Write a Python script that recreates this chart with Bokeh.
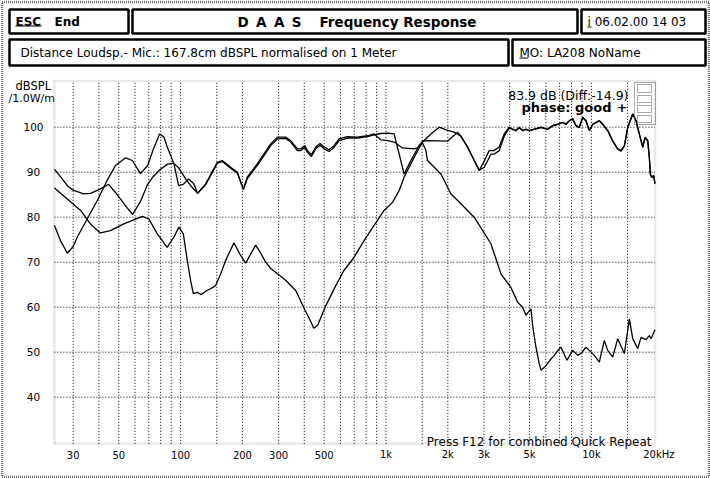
import math
from bokeh.plotting import figure
from bokeh.models import Range1d, Label, BoxAnnotation
from bokeh.core.properties import value
from bokeh.embed import file_html
from bokeh.resources import INLINE

# ---------------- data ----------------
sum_f = [24.3, 26.0, 28.1, 30.0, 33.7, 36.4, 40.7, 44.6, 48.2, 54.0, 58.4, 63.8, 69.1, 73.5, 79.0,
         86.4, 92.4, 97.8, 105.8, 112, 121, 132.4, 151, 159.7, 175.3, 188.9, 202.1, 211.3, 223.6,
         236.5, 254.7, 274.6, 296, 324.8, 343.6, 370.4, 384.4, 402.1, 414.4, 433.5, 454.9, 477.3,
         499.3, 528.1, 558.6, 590.9, 649.4, 726.2, 812.5, 874.9, 943.3, 1017, 1095, 1203, 1371,
         1424, 1506, 1593, 1994, 2230, 2314, 2500, 2688, 2843, 3008, 3181, 3352, 3558, 3763,
         3980, 4135, 4292, 4453, 4626, 4801, 4982, 5269, 5681, 6125, 6479, 6853, 7248, 7522,
         7806, 8109, 8414, 8730, 9070, 9412, 9768, 10146, 10529, 10926, 11352, 12006, 12699,
         13432, 13942, 14468, 15028, 15893, 16492, 17115, 17783, 18248, 18804, 19147, 19365,
         19670, 20100, 20400]
sum_db = [90.7, 89.0, 87.0, 86.0, 85.2, 85.3, 86.3, 87.3, 85.5, 82.5, 80.6, 83.5, 87.3, 89.0, 90.5,
          91.8, 92.0, 91.0, 88.5, 87.0, 85.3, 87.4, 92.2, 92.6, 91.1, 90.0, 86.3, 88.9, 90.4,
          91.9, 94.1, 96.3, 97.8, 97.8, 97.0, 95.2, 95.2, 95.9, 94.8, 93.9, 95.6, 96.4,
          95.6, 95.0, 95.9, 97.4, 97.9, 97.8, 98.1, 98.5, 97.2, 97.0, 96.7, 95.4, 95.2,
          95.4, 96.9, 97.0, 96.9, 98.9, 98.0, 95.5, 92.6, 90.4, 92.5, 94.8, 94.8, 95.6, 98.5,
          100.0, 99.6, 99.3, 100.0, 99.3, 99.6, 99.3, 99.6, 100.0, 99.6, 100.4, 100.7, 101.1, 100.7,
          101.5, 101.9, 100.4, 100.0, 102.2, 101.5, 99.3, 100.7, 101.1, 101.5, 100.7, 99.3, 97.0,
          95.2, 94.8, 95.9, 100.0, 103.0, 101.5, 98.5, 95.6, 97.8, 97.0, 93.3, 89.6,
          88.9, 89.3, 87.5]

woofer_f = [24.3, 26.0, 28.1, 30.0, 31.4, 35.1, 39.3, 43.9, 48.2, 54.0, 58.2, 63.8, 69.1, 73.5,
            79.0, 83.0, 86.1, 92.8, 97.8, 103.0, 109.4, 115.7, 121, 132.4, 151, 159.7, 175.3,
            188.9, 202.1, 211.3, 223.6, 236.5, 254.7, 274.6, 296, 324.8, 343.6, 370.4, 384.4,
            402.1, 414.4, 433.5, 454.9, 477.3, 499.3, 528.1, 558.6, 590.9, 649.4, 726.2, 812.5,
            874.9, 943.3, 1017, 1095, 1158, 1225, 1321, 1450, 1506, 1560, 1593, 1850, 2069, 2314,
            2688, 3242, 3627, 4057, 4374, 4626, 4801, 4926, 5078, 5176, 5370, 5573, 5681, 6009,
            6357, 6597, 6977, 7111, 7607, 8109, 8577, 8898, 9412, 9768, 10330, 10926, 11558,
            12006, 12699, 13432, 14468, 15300, 15893, 16810, 17446, 18455, 19147, 19520, 20400]
woofer_db = [78.2, 74.8, 72.0, 73.5, 75.6, 79.6, 83.7, 88.2, 91.5, 93.2, 92.6, 89.7, 91.5, 95.0,
             98.5, 97.8, 95.6, 91.9, 87.0, 87.3, 88.5, 87.5, 85.3, 87.2, 92.0, 92.4, 90.9,
             89.8, 86.1, 88.6, 90.1, 91.5, 93.7, 95.9, 97.4, 97.5, 96.7, 94.8, 94.8,
             95.5, 94.4, 93.5, 95.2, 96.0, 95.2, 94.6, 95.5, 97.0, 97.6, 97.6, 97.9,
             98.3, 98.6, 98.7, 98.5, 94.1, 89.6, 92.6, 95.9, 96.5, 95.0, 92.6, 89.6, 85.2, 83.0,
             80.0, 74.1, 67.4, 64.4, 61.1, 60.0, 58.2, 58.9, 59.6, 55.9, 51.1, 47.4, 46.0, 47.0,
             48.5, 49.3, 50.8, 51.1, 48.2, 50.4, 49.3, 49.7, 51.1, 50.4, 49.3, 47.8, 52.6,
             50.4, 48.9, 53.0, 49.7, 57.4, 53.0, 50.8, 53.3, 52.8, 53.7, 53.0, 55.0]

tweeter_f = [24.3, 28.0, 32.6, 36.4, 40.7, 45.6, 52.9, 65.1, 70.1, 77.0, 86.1, 92.8, 98.1, 103.1,
             107.8, 111.9, 115.3, 120.6, 126.2, 133.9, 140, 148.1, 156.6, 165.7, 181.8, 196.1,
             207.4, 232.1, 245.5, 259.6, 274.6, 324.8, 363.4, 402.1, 433.5, 444.8, 465, 508.9,
             569.4, 622.9, 699, 782, 874.9, 978.8, 1076, 1158, 1225, 1371, 1506, 1653, 1815,
             1994, 2147, 2314, 2496, 2688, 2843, 3008, 3242, 3352, 3558, 3763, 3980, 4135, 4292,
             4453, 4626, 4801, 4982, 5269, 5681, 6125, 6479, 6853, 7248, 7522, 7806, 8109, 8414,
             8730, 9070, 9412, 9768, 10146, 10529, 10926, 11352, 12006, 12699, 13432, 13942,
             14468, 15028, 15893, 16492, 17115, 17783, 18248, 18804, 19147, 19365, 19670, 20100,
             20400]
tweeter_db = [86.5, 84.1, 81.5, 78.5, 76.5, 77.0, 78.5, 80.2, 79.6, 76.3, 73.3, 75.6, 77.8, 76.3,
              70.4, 65.9, 63.0, 63.3, 62.8, 63.7, 64.1, 64.8, 67.4, 70.4, 74.3, 71.5,
              69.8, 73.8, 72.0, 70.0, 68.6, 66.0, 63.7, 59.5, 56.5, 55.3, 56.0, 60.3,
              64.8, 68.1, 71.1, 74.8, 78.2, 81.5, 83.3, 85.9, 88.9, 93.3, 96.7, 98.5, 100.0,
              99.3, 98.9, 98.0, 95.6, 92.6, 90.4, 91.1, 94.0, 94.0, 94.8, 98.0, 99.8, 99.5, 99.2,
              99.9, 99.2, 99.5, 99.2, 99.5, 99.9, 99.5, 100.3, 100.6, 101.0, 100.6, 101.4, 101.8, 100.3,
              99.9, 102.1, 101.4, 99.2, 100.6, 101.0, 101.4, 100.6, 99.2, 96.9, 95.1, 94.7,
              95.8, 99.9, 102.9, 101.4, 98.4, 95.5, 97.7, 96.9, 93.2, 89.5, 88.8, 89.2,
              87.4]

grid_freqs = [30, 40, 50, 60, 70, 80, 90, 100, 150, 200, 300, 400, 500, 600, 700, 800, 900,
              1000, 1500, 2000, 3000, 4000, 5000, 6000, 7000, 8000, 9000, 10000, 15000]
x_tick_vals = [30, 50, 100, 200, 300, 500, 1000, 2000, 3000, 5000, 10000, 20000]
x_tick_labels = ["30", "50", "100", "200", "300", "500", "1k", "2k", "3k", "5k", "10k", "20kHz"]
y_tick_vals = [40, 50, 60, 70, 80, 90, 100]
y_tick_labels = ["40", "50", "60", "70", "80", "90", "100"]
plot_f = (24.3, 20400)      # frequency span of the diagram
plot_db = (29.64, 110.27)   # level span of the diagram

header_title = ["D\u00a0\u2009A\u00a0\u2009A\u00a0\u2009S", "Frequency Response"]
header_left = ["ESC", "End"]
header_date = "i 06.02.00 14 03"
info_text = "Distance Loudsp.- Mic.: 167.8cm dBSPL normalised on 1 Meter"
model_text = "MO: LA208 NoName"
level_text = "83.9 dB (Diff:-14.9)"
phase_text = "phase: good"
unit_text = ["dBSPL", "/1.0W/m"]
footer_text = "Press F12 for combined Quick Repeat"

# ---------------- figure ----------------
FONT = "DejaVu Sans"
W, H = 710, 478
# the whole canvas is the frame; the diagram box sits inside it
XR = (13.28, 38000.0)
YR = (21.93, 128.16)
p = figure(width=W, height=H, x_axis_type="log", title=None,
           x_range=Range1d(*XR), y_range=Range1d(*YR),
           x_axis_location=None, y_axis_location=None,
           output_backend="svg", toolbar_location=None,
           min_border=0, min_border_left=0, min_border_right=0,
           min_border_top=0, min_border_bottom=0)
p.background_fill_color = "white"
p.border_fill_color = "white"
p.outline_line_color = None
p.xgrid.visible = False
p.ygrid.visible = False


def fx(X):  # page pixel -> frequency
    a, b = math.log10(XR[0]), math.log10(XR[1])
    return 10 ** (a + X / W * (b - a))


def dy(Y):  # page pixel -> dB
    return YR[1] - Y / H * (YR[1] - YR[0])


# grid (dotted)
n = len(grid_freqs)
p.segment(x0=grid_freqs, x1=grid_freqs, y0=[plot_db[0]] * n, y1=[plot_db[1]] * n,
          line_color="black", line_dash="1 2", line_width=1)
m = len(y_tick_vals)
p.segment(x0=[plot_f[0]] * m, x1=[plot_f[1]] * m, y0=y_tick_vals, y1=y_tick_vals,
          line_color="black", line_dash="1 2", line_width=1)

# curves
p.line(tweeter_f, tweeter_db, line_color="black", line_width=1.3)
p.line(woofer_f, woofer_db, line_color="black", line_width=1.3)
p.line(sum_f, sum_db, line_color="black", line_width=1.3)

# tick labels
p.text(x=x_tick_vals[:-1], y=[dy(454)] * (len(x_tick_vals) - 1), text=x_tick_labels[:-1],
       text_font=value(FONT), text_font_size=value("10px"), text_color="black",
       text_align="center", text_baseline="middle")
p.text(x=x_tick_vals[-1:], y=[dy(454)], text=x_tick_labels[-1:], x_offset=-10,
       text_font=value(FONT), text_font_size=value("10px"), text_color="black",
       text_align="left", text_baseline="middle")
p.text(x=[fx(33)] * m, y=y_tick_vals, text=y_tick_labels,
       text_font=value(FONT), text_font_size=value("10.5px"), text_color="black",
       text_align="center", text_baseline="middle")


def sx(X):
    return X


def sy(Y):
    return H - Y


def lab(X, Y, text, size="11px", bold=False, align="left", baseline="middle", color="black"):
    p.add_layout(Label(x=sx(X), y=sy(Y), x_units="screen", y_units="screen", text=text,
                       text_font=FONT, text_font_size=size,
                       text_font_style="bold" if bold else "normal",
                       text_align=align, text_baseline=baseline, text_color=color))


def box(X1, Y1, X2, Y2, lw=2.5, color="black", dash="solid", fill=None):
    p.add_layout(BoxAnnotation(left=sx(X1), right=sx(X2), top=sy(Y1), bottom=sy(Y2),
                               left_units="screen", right_units="screen",
                               top_units="screen", bottom_units="screen",
                               fill_color=fill, fill_alpha=1.0 if fill else 0.0,
                               line_color=color, line_width=lw, line_dash=dash,
                               line_alpha=1.0 if color else 0.0,
                               level="overlay"))


# diagram border (hatched grey)
p.add_layout(BoxAnnotation(left=plot_f[0], right=plot_f[1], bottom=plot_db[0], top=plot_db[1],
                           fill_alpha=0.0, line_color="#6e6e6e", line_width=2.5,
                           line_dash="1 1", level="overlay"))

# outer border
box(1.5, 1.5, 708.5, 476.5, lw=2.5, color="#6e6e6e", dash="1 1")
# header boxes
box(9, 9, 128, 33)
box(132, 9, 577, 33)
box(581, 9, 705, 33)
box(9, 39, 508, 65)
box(512, 39, 705, 65)

lab(15, 21, header_left[0], size="12px", bold=True)
lab(54, 21, header_left[1], size="12px", bold=True)
box(15, 25, 41, 26, lw=0, color=None, fill="black")
lab(237, 21.5, header_title[0], size="13.5px", bold=True, align="left")
lab(476, 21.5, header_title[1], size="13.5px", bold=True, align="right")
lab(587, 21, header_date, size="12px")
box(587, 26, 591, 27, lw=0, color=None, fill="black")
lab(20, 52, info_text, size="12px")
lab(519, 52, model_text, size="12px")
box(519, 57, 528, 58, lw=0, color=None, fill="black")

# unit of the level axis
lab(15, 85, unit_text[0], size="11.5px")
lab(8, 98, unit_text[1], size="11px")

# in-plot annotations
lab(628, 95, level_text, size="12.5px", align="right")
lab(611, 107, phase_text, size="13px", bold=True, align="right")
lab(627, 107, "+", size="13px", bold=True, align="right")
lab(651, 441, footer_text, size="12px", align="right", baseline="alphabetic", color="black")

# small dotted tool strip at top right
box(634, 82, 655, 124, lw=1, color="#555555", dash="1 1")
box(637, 84, 651, 92, lw=1, color="#555555", dash="1 1")
box(637, 95, 651, 102, lw=1, color="#555555", dash="1 1")
box(637, 105, 651, 112, lw=1, color="#555555", dash="1 1")
box(637, 115, 651, 122, lw=1, color="#555555", dash="1 1")

open("out.html", "w").write(file_html(p, INLINE))
